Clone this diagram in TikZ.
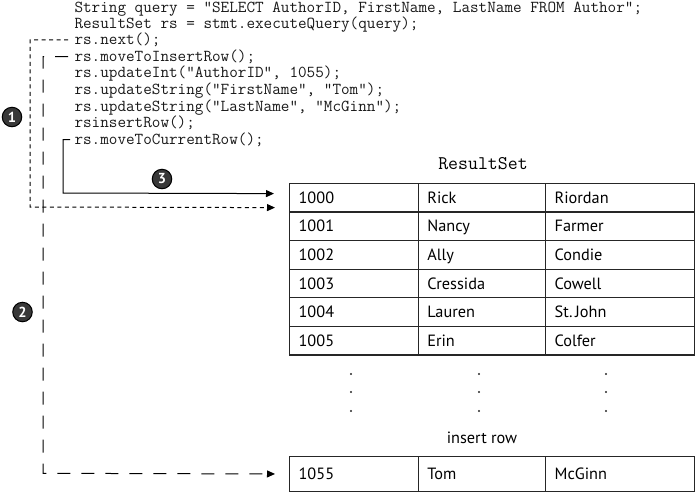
\documentclass[tikz,border=0pt]{standalone}
\usepackage{fontspec}
\setmainfont{PT Sans}
\usetikzlibrary{arrows.meta}

\tikzset{
  code/.style={anchor=base west, inner sep=0, text=black!90,
    font=\ttfamily\fontsize{16.7}{16.7}\selectfont},
  cell/.style={draw=black!85, line width=1.2pt, anchor=north west,
    inner xsep=9pt, inner ysep=0, minimum height=28.6pt, align=left,
    text height=11.5pt, text depth=0pt,
    font=\fontsize{16.3}{16.3}\selectfont},
  badge/.style={circle, fill=black!78, draw=black, inner sep=0,
    minimum size=19.5pt, text=white, font=\bfseries\fontsize{14.5}{14.5}\selectfont},
  tip/.style={-{Triangle[length=8pt,width=7pt]}},
  dotline/.style={dash pattern=on 4pt off 3.5pt},
  dashline/.style={dash pattern=on 13pt off 11pt},
}

\begin{document}
\begin{tikzpicture}[x=1pt, y=-1pt, line width=1pt]
\useasboundingbox (0,0) rectangle (696,491);

% the code
\node [code] (l1) at (74,12) {String query = "SELECT AuthorID, FirstName, LastName FROM Author";};
\node [code] (l2) at (74,28.2) {ResultSet rs = stmt.executeQuery(query);};
\node [code] (l3) at (74,44.6) {rs.next();};
\node [code] (l4) at (74,61.2) {rs.moveToInsertRow();};
\node [code] (l5) at (74,77.8) {rs.updateInt("AuthorID", 1055);};
\node [code] (l6) at (74,94.4) {rs.updateString("FirstName", "Tom");};
\node [code] (l7) at (74,111) {rs.updateString("LastName", "McGinn");};
\node [code] (l8) at (74,127.6) {rsinsertRow();};
\node [code] (l9) at (74,144.2) {rs.moveToCurrentRow();};

% the result set
\node [font=\ttfamily\fontsize{19.3}{19.3}\selectfont] (rslabel) at (483,164) {ResultSet};

\foreach \id/\first/\last [count=\i from 0] in
  {1000/Rick/Riordan, 1001/Nancy/Farmer, 1002/Ally/Condie,
   1003/Cressida/Cowell, 1004/Lauren/St.\,John, 1005/Erin/Colfer} {
  \node [cell, text width=110.7pt] (a\i) at (289,182.7+\i*28.6) {\id};
  \node [cell, text width=109.3pt] (b\i) at (417.7,182.7+\i*28.6) {\first};
  \node [cell, text width=131pt] (c\i) at (545,182.7+\i*28.6) {\last};
}

\foreach \x in {351,479,606}
  \foreach \y in {374,392,411}
    \fill [black!85] (\x,\y) circle (1.1pt);

\node [font=\fontsize{16.3}{16.3}\selectfont] (ins) at (482,438) {insert row};

\node [cell, text width=110.7pt, minimum height=34.7pt] (newa) at (289,456) {1055};
\node [cell, text width=109.3pt, minimum height=34.7pt] (newb) at (417.7,456) {Tom};
\node [cell, text width=131pt, minimum height=34.7pt] (newc) at (545,456) {McGinn};

% the cursor moves
\draw [dotline, tip] ([xshift=-6pt]l3.west) -| (30,207) -- ([xshift=-14pt,yshift=-10pt]a0.west);
\draw [dashline, tip] ([xshift=-6pt]l4.west) -| (43,473.3) -- ([xshift=-14pt]newa.west);
\draw [tip] ([xshift=-4pt]l9.west) -| (63,193) -- ([xshift=-15pt,yshift=4pt]a0.west);

\node [badge] (n1) at (12,117) {1};
\node [badge] (n2) at (22.5,312) {2};
\node [badge] (n3) at (162,179) {3};

\end{tikzpicture}
\end{document}
